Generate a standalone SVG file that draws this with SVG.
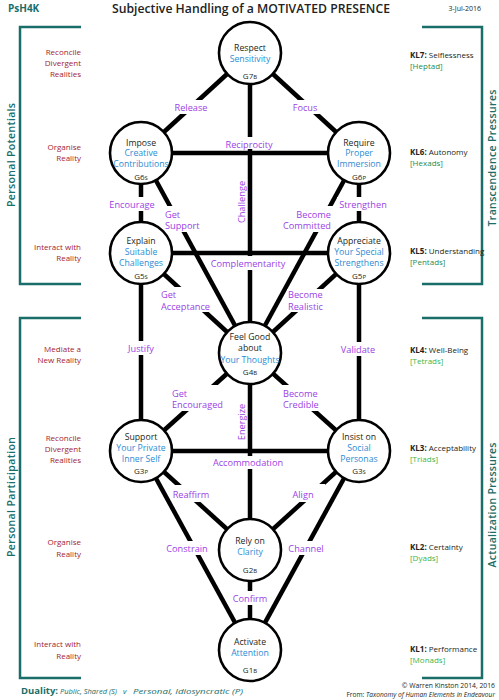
<svg xmlns="http://www.w3.org/2000/svg" width="499" height="700" viewBox="0 0 499 700">
<style>
text{font-family:"Open Sans","Noto Sans","DejaVu Sans",sans-serif}
.c{fill:#fff;stroke:#000;stroke-width:2.6}
.n{font-size:8.7px;text-anchor:middle;fill:#231f20}
.bl{fill:#2b8cd4}
.g{font-size:8px;text-anchor:middle;fill:#231f20}
.s{font-size:6px}
.l{font-size:9.2px;fill:#9b3fe4}
.m{text-anchor:middle}
.e{text-anchor:end}
.r{font-size:8px;fill:#a3232f;text-anchor:end}
.k{font-size:8px;fill:#231f20}
.kb{font-weight:700}
.gd{fill:#2a8a4f}
.gl{fill:#3ab54a}
.side{font-size:10.5px;font-weight:600;fill:#1a6e6a;text-anchor:middle}
.br{fill:none;stroke:#1a6e6a;stroke-width:2.5}
.du{font-size:7.6px;font-style:italic;fill:#1a6e6a}
#connectors line{stroke:#000;stroke-width:4.5}
</style>
<defs>
<mask id="gaps" maskUnits="userSpaceOnUse" x="0" y="0" width="499" height="700">
<rect width="499" height="700" fill="#fff"/>
<g fill="#000">
<rect x="172" y="100" width="38" height="14"/>
<rect x="290" y="100" width="31" height="14"/>
<rect x="222" y="137" width="54" height="12"/>
<rect x="106" y="197" width="51" height="14"/>
<rect x="337" y="197" width="52" height="14"/>
<rect x="162" y="206" width="40" height="26"/>
<rect x="281" y="206" width="53" height="26"/>
<rect x="208" y="256" width="80" height="14"/>
<rect x="158" y="287" width="53" height="25"/>
<rect x="287" y="289" width="39" height="23"/>
<rect x="125" y="341" width="32" height="14"/>
<rect x="339" y="342" width="38" height="14"/>
<rect x="169" y="385" width="57" height="26"/>
<rect x="280" y="385" width="40" height="26"/>
<rect x="212" y="456" width="72" height="13"/>
<rect x="172" y="485" width="40" height="17"/>
<rect x="288" y="484" width="37" height="18"/>
<rect x="165" y="541" width="44" height="14"/>
<rect x="286" y="541" width="40" height="14"/>
<rect x="231" y="591" width="38" height="14"/>
</g>
</mask>
</defs>

<!-- header -->
<text x="8" y="12" style="font-size:10px;font-weight:700;fill:#1a6e6a">PsH4K</text>
<text x="251" y="12.5" class="m" style="font-size:12.5px;font-weight:600;fill:#222" textLength="278" lengthAdjust="spacingAndGlyphs">Subjective Handling of a MOTIVATED PRESENCE</text>
<text x="481" y="11" class="e" style="font-size:7px;fill:#231f20">3-Jul-2016</text>

<!-- brackets -->
<g id="brackets">
<path class="br" d="M81,27 H20 V284 H81"/>
<path class="br" d="M81,318 H20 V678 H81"/>
<path class="br" d="M422,27 H482 V284 H422"/>
<path class="br" d="M422,318 H482 V678 H422"/>
</g>
<text class="side" transform="translate(15,155) rotate(-90)" textLength="104" lengthAdjust="spacing">Personal  Potentials</text>
<text class="side" transform="translate(15,497) rotate(-90)" textLength="120" lengthAdjust="spacing">Personal  Participation</text>
<text class="side" transform="translate(496,158) rotate(-90)" textLength="137" lengthAdjust="spacing">Transcendence  Pressures</text>
<text class="side" transform="translate(496,505) rotate(-90)" textLength="125" lengthAdjust="spacing">Actualization  Pressures</text>

<!-- left red labels -->
<g id="levels-left">
<text class="r" x="81" y="55">Reconcile</text>
<text class="r" x="81" y="66">Divergent</text>
<text class="r" x="81" y="76.5">Realities</text>
<text class="r" x="81" y="150">Organise</text>
<text class="r" x="81" y="161">Reality</text>
<text class="r" x="81" y="249.5">Interact with</text>
<text class="r" x="81" y="260.5">Reality</text>
<text class="r" x="81" y="351.5">Mediate a</text>
<text class="r" x="81" y="362.5">New Reality</text>
<text class="r" x="81" y="441">Reconcile</text>
<text class="r" x="81" y="452">Divergent</text>
<text class="r" x="81" y="462.5">Realities</text>
<text class="r" x="81" y="545">Organise</text>
<text class="r" x="81" y="557">Reality</text>
<text class="r" x="81" y="647">Interact with</text>
<text class="r" x="81" y="659">Reality</text>
</g>

<!-- right KL labels -->
<g id="levels-right">
<text class="k" x="410" y="58"><tspan class="kb">KL7:</tspan> Selflessness</text>
<text class="k gd" x="410" y="69">[Heptad]</text>
<text class="k" x="410" y="155"><tspan class="kb">KL6:</tspan> Autonomy</text>
<text class="k gd" x="410" y="165.5">[Hexads]</text>
<text class="k" x="410" y="254"><tspan class="kb">KL5:</tspan> Understanding</text>
<text class="k gd" x="410" y="264.5">[Pentads]</text>
<text class="k" x="410" y="353"><tspan class="kb">KL4:</tspan> Well-Being</text>
<text class="k gl" x="410" y="363.5">[Tetrads]</text>
<text class="k" x="410" y="451"><tspan class="kb">KL3:</tspan> Acceptability</text>
<text class="k gl" x="410" y="461.5">[Triads]</text>
<text class="k" x="410" y="550"><tspan class="kb">KL2:</tspan> Certainty</text>
<text class="k gl" x="410" y="560.5">[Dyads]</text>
<text class="k" x="410" y="652"><tspan class="kb">KL1:</tspan> Performance</text>
<text class="k gl" x="410" y="662.5">[Monads]</text>
</g>

<!-- connectors -->
<g id="connectors" mask="url(#gaps)">
<line x1="250" y1="53" x2="141" y2="153"/>
<line x1="250" y1="53" x2="359" y2="153"/>
<line x1="250" y1="53" x2="250" y2="650"/>
<line x1="141" y1="153" x2="359" y2="153"/>
<line x1="141" y1="153" x2="141" y2="451"/>
<line x1="359" y1="153" x2="359" y2="451"/>
<line x1="141" y1="253" x2="359" y2="253"/>
<line x1="141" y1="153" x2="250" y2="353"/>
<line x1="359" y1="153" x2="250" y2="353"/>
<line x1="141" y1="253" x2="250" y2="353"/>
<line x1="359" y1="253" x2="250" y2="353"/>
<line x1="250" y1="353" x2="141" y2="451"/>
<line x1="250" y1="353" x2="359" y2="451"/>
<line x1="141" y1="451" x2="359" y2="451"/>
<line x1="141" y1="451" x2="250" y2="550"/>
<line x1="359" y1="451" x2="250" y2="550"/>
<line x1="141" y1="451" x2="250" y2="650"/>
<line x1="359" y1="451" x2="250" y2="650"/>
</g>

<!-- connector labels -->
<g id="connector-labels" class="l">
<text class="m" x="191" y="110.5">Release</text>
<text class="m" x="305" y="110.5">Focus</text>
<text class="m" x="249" y="147.5">Reciprocity</text>
<text class="m" x="132" y="207.5">Encourage</text>
<text class="m" x="363" y="207.5">Strengthen</text>
<text x="165" y="217.5">Get</text>
<text x="165" y="229">Support</text>
<text class="e" x="331" y="217.5">Become</text>
<text class="e" x="331" y="229">Committed</text>
<text transform="translate(245,202) rotate(-90)" class="m">Challenge</text>
<text class="m" x="248" y="266.5">Complementarity</text>
<text x="161" y="298">Get</text>
<text x="161" y="309.5">Acceptance</text>
<text x="288" y="298">Become</text>
<text x="288" y="309.5">Realistic</text>
<text class="m" x="141" y="351.5">Justify</text>
<text class="m" x="358" y="352.5">Validate</text>
<text x="172" y="396.5">Get</text>
<text x="172" y="408">Encouraged</text>
<text x="283" y="396.5">Become</text>
<text x="283" y="408">Credible</text>
<text transform="translate(244.5,422) rotate(-90)" class="m">Energize</text>
<text class="m" x="248" y="465.5">Accommodation</text>
<text class="m" x="191" y="497.5">Reaffirm</text>
<text class="m" x="303" y="497.5">Align</text>
<text class="m" x="187" y="551.5">Constrain</text>
<text class="m" x="306" y="551.5">Channel</text>
<text class="m" x="250" y="601.5">Confirm</text>
</g>

<!-- nodes -->
<g id="G7">
<circle class="c" cx="250" cy="53" r="31"/>
<text class="n" x="250" y="50.5">Respect</text>
<text class="n bl" x="250" y="62">Sensitivity</text>
<text class="g" x="250" y="79">G7<tspan class="s">B</tspan></text>
</g>
<g id="G6S">
<circle class="c" cx="141" cy="153" r="31"/>
<text class="n" x="141" y="145.5">Impose</text>
<text class="n bl" x="141" y="156">Creative</text>
<text class="n bl" x="141" y="167">Contributions</text>
<text class="g" x="141" y="180">G6<tspan class="s">S</tspan></text>
</g>
<g id="G6P">
<circle class="c" cx="359" cy="153" r="31"/>
<text class="n" x="359" y="145.5">Require</text>
<text class="n bl" x="359" y="156">Proper</text>
<text class="n bl" x="359" y="167">Immersion</text>
<text class="g" x="359" y="180">G6<tspan class="s">P</tspan></text>
</g>
<g id="G5S">
<circle class="c" cx="141" cy="253" r="31"/>
<text class="n" x="141" y="243.5">Explain</text>
<text class="n bl" x="141" y="255">Suitable</text>
<text class="n bl" x="141" y="266">Challenges</text>
<text class="g" x="141" y="279">G5<tspan class="s">S</tspan></text>
</g>
<g id="G5P">
<circle class="c" cx="359" cy="253" r="31"/>
<text class="n" x="359" y="243.5">Appreciate</text>
<text class="n bl" x="359" y="255">Your Special</text>
<text class="n bl" x="359" y="266">Strengthens</text>
<text class="g" x="359" y="279">G5<tspan class="s">P</tspan></text>
</g>
<g id="G4B">
<circle class="c" cx="250" cy="353" r="31"/>
<text class="n" x="250" y="340">Feel Good</text>
<text class="n" x="250" y="351">about</text>
<text class="n bl" x="250" y="362.5">Your Thoughts</text>
<text class="g" x="250" y="375">G4<tspan class="s">B</tspan></text>
</g>
<g id="G3P">
<circle class="c" cx="141" cy="451" r="31"/>
<text class="n" x="141" y="440">Support</text>
<text class="n bl" x="141" y="451">Your Private</text>
<text class="n bl" x="141" y="462">Inner Self</text>
<text class="g" x="141" y="474">G3<tspan class="s">P</tspan></text>
</g>
<g id="G3S">
<circle class="c" cx="359" cy="451" r="31"/>
<text class="n" x="359" y="440">Insist on</text>
<text class="n bl" x="359" y="451">Social</text>
<text class="n bl" x="359" y="462">Personas</text>
<text class="g" x="359" y="474">G3<tspan class="s">S</tspan></text>
</g>
<g id="G2B">
<circle class="c" cx="250" cy="550" r="31"/>
<text class="n" x="250" y="544">Rely on</text>
<text class="n bl" x="250" y="555">Clarity</text>
<text class="g" x="250" y="573">G2<tspan class="s">B</tspan></text>
</g>
<g id="G1B">
<circle class="c" cx="250" cy="650" r="31"/>
<text class="n" x="250" y="645">Activate</text>
<text class="n bl" x="250" y="656">Attention</text>
<text class="g" x="250" y="673">G1<tspan class="s">B</tspan></text>
</g>

<!-- footer -->
<text x="21" y="694" style="font-size:9.5px;font-weight:700;fill:#1a6e6a">Duality:</text>
<text class="du" x="60" y="694" textLength="57" lengthAdjust="spacingAndGlyphs">Public, Shared (S)</text>
<text class="du" x="123" y="694">v</text>
<text class="du" x="133" y="694" textLength="110" lengthAdjust="spacingAndGlyphs">Personal, Idiosyncratic (P)</text>
<text x="495" y="688" class="e" style="font-size:6.8px;fill:#231f20">© Warren Kinston 2014, 2016</text>
<text x="495" y="696.5" class="e" style="font-size:6.6px;fill:#231f20">From: <tspan style="font-style:italic">Taxonomy of Human Elements in Endeavour</tspan></text>
</svg>
